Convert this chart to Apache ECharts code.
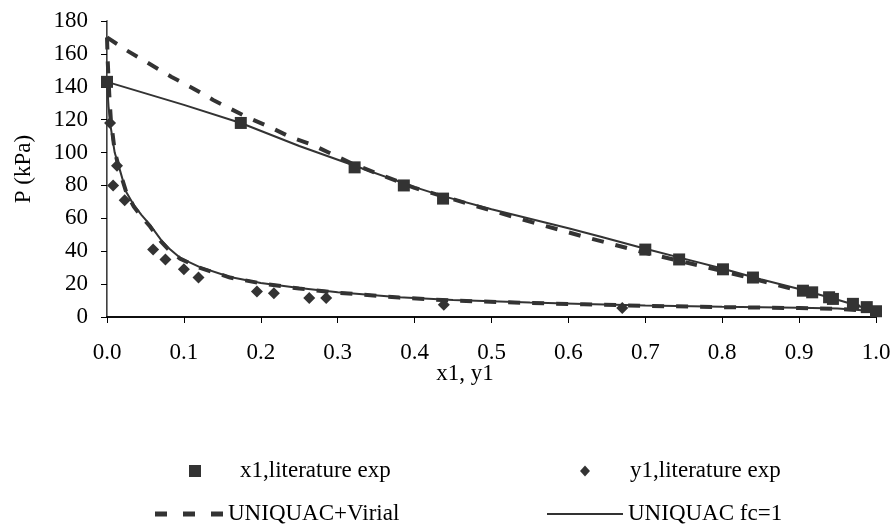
<!DOCTYPE html>
<html>
<head>
  <meta charset="UTF-8">
  <title>P-x-y diagram</title>
  <style>
    * { margin: 0; padding: 0; }
    html, body { width: 896px; height: 531px; background: #fff; }
    #chart { width: 896px; height: 531px; }
  </style>
</head>
<body>
  <div id="chart"></div>
  <script src="https://cdn.jsdelivr.net/npm/echarts@6/dist/echarts.min.js"></script>
  <script>
    // experimental points [x, P]
    const x1Exp = [[0, 143], [0.174, 118], [0.322, 91], [0.386, 80], [0.437, 72], [0.700, 41],
      [0.744, 35], [0.801, 29], [0.840, 24], [0.905, 16], [0.917, 15], [0.939, 12],
      [0.944, 11], [0.970, 8], [0.988, 6], [1.0, 3.5]];
    const y1Exp = [[0.004, 118], [0.013, 92], [0.008, 80], [0.023, 71], [0.060, 41], [0.076, 35],
      [0.100, 29], [0.119, 24], [0.195, 15.5], [0.217, 14.5], [0.263, 11.5], [0.285, 11.5],
      [0.438, 7.5], [0.670, 5.5]];

    // model curves
    const virialBubble = [[0, 170], [0.026, 162], [0.084, 146], [0.112, 139], [0.138, 132],
      [0.182, 121.5], [0.212, 115.5], [0.238, 109.5], [0.268, 104.5], [0.32, 93], [0.4, 78.5],
      [0.476, 68], [0.55, 58], [0.619, 49], [0.7, 39], [0.8, 28], [0.9, 16], [0.95, 10], [1.0, 3.5]];
    const virialDew = [[0, 170], [0.001, 155], [0.003, 135], [0.005, 120], [0.01, 101], [0.017, 88],
      [0.025, 76], [0.035, 67], [0.045, 61], [0.056, 55], [0.07, 46], [0.08, 41], [0.095, 35.5],
      [0.12, 30], [0.16, 24], [0.2, 20.5], [0.25, 17.3], [0.3, 14.8], [0.38, 11.8], [0.45, 10],
      [0.55, 8.5], [0.62, 7.7], [0.7, 6.8], [0.8, 6], [0.9, 5.4], [0.95, 5], [1.0, 3.5]];
    const fc1Bubble = [[0, 143], [0.1, 129], [0.174, 118], [0.25, 104], [0.322, 92], [0.4, 79],
      [0.437, 73.5], [0.5, 65.5], [0.6, 54], [0.641, 49], [0.7, 41.5], [0.75, 35.5], [0.8, 29.5],
      [0.85, 23], [0.9, 17], [0.95, 10.5], [1.0, 3.5]];
    const fc1Dew = [[0, 143], [0.002, 128], [0.005, 115], [0.01, 100], [0.017, 89], [0.025, 76],
      [0.035, 68], [0.045, 62], [0.056, 56], [0.07, 47], [0.08, 42], [0.095, 36], [0.12, 30.5],
      [0.16, 24.3], [0.2, 20.7], [0.25, 17.6], [0.3, 15], [0.38, 12], [0.45, 10.3], [0.55, 8.8],
      [0.62, 7.9], [0.7, 7], [0.8, 6.2], [0.9, 5.6], [0.95, 5.2], [1.0, 3.5]];

    const names = ['x1,literature exp', 'y1,literature exp', 'UNIQUAC+Virial', 'UNIQUAC fc=1'];

    const font = 'Liberation Serif';
    const ink = '#333';
    const chart = echarts.init(document.getElementById('chart'), null, { renderer: 'canvas' });

    const txt = { fontFamily: font, fontSize: 23, color: '#000', lineHeight: 24 };

    const legendBase = {
      orient: 'horizontal', padding: 0, itemGap: 0, selectedMode: false
    };

    // legend glyphs drawn like the spreadsheet legend
    const dashIcon = 'path://M0,0H12V5H0Z M28,0H40V5H28Z M56,0H68V5H56Z';
    const solidIcon = 'path://M0,0H76V2H0Z';

    const option = {
      animation: false,
      grid: { left: 107, right: 20, top: 21, bottom: 214 },
      xAxis: [{
        type: 'value', min: 0, max: 1, interval: 0.1,
        axisLine: { lineStyle: { color: '#000', width: 1.5 } },
        axisTick: { show: true, length: 6, lineStyle: { color: '#000' } },
        axisLabel: { margin: 24, fontFamily: font, fontSize: 23, color: '#000', formatter: v => v.toFixed(1) },
        splitLine: { show: false }
      }, {
        type: 'value', position: 'top', min: 0, max: 1,
        axisLine: { show: true, lineStyle: { color: '#000', width: 1.5 } },
        axisTick: { show: false }, axisLabel: { show: false }, splitLine: { show: false }
      }],
      yAxis: [{
        type: 'value', min: 0, max: 180, interval: 20,
        axisLine: { show: true, lineStyle: { color: '#000', width: 1.5 } },
        axisTick: { show: true, length: 6, lineStyle: { color: '#000' } },
        axisLabel: { margin: 19, fontFamily: font, fontSize: 23, color: '#000' },
        splitLine: { show: false }
      }, {
        type: 'value', position: 'right', min: 0, max: 180,
        axisLine: { show: true, lineStyle: { color: '#888', width: 1 } },
        axisTick: { show: false }, axisLabel: { show: false }, splitLine: { show: false }
      }],
      legend: [
        Object.assign({}, legendBase, {
          data: [{ name: names[0], icon: 'rect' }], left: 189, top: 459,
          itemWidth: 12, itemHeight: 12,
          textStyle: Object.assign({}, txt, { padding: [0, 0, 0, 34] })
        }),
        Object.assign({}, legendBase, {
          data: [{ name: names[1], icon: 'diamond' }], left: 580, top: 459,
          itemWidth: 10, itemHeight: 11,
          textStyle: Object.assign({}, txt, { padding: [0, 0, 0, 35] })
        }),
        Object.assign({}, legendBase, {
          data: [{ name: names[2], icon: dashIcon, itemStyle: { color: ink } }], left: 155, top: 502,
          itemWidth: 68, itemHeight: 5,
          textStyle: txt
        }),
        Object.assign({}, legendBase, {
          data: [{ name: names[3], icon: solidIcon, itemStyle: { color: ink } }], left: 547, top: 502,
          itemWidth: 76, itemHeight: 2,
          textStyle: txt
        })
      ],
      graphic: [
        {
          type: 'text', x: 465, y: 374,
          style: { text: 'x1, y1', font: '23px "Liberation Serif"', fill: '#000', align: 'center', verticalAlign: 'middle' }
        },
        {
          type: 'text', x: 24, y: 169, rotation: Math.PI / 2,
          style: { text: 'P (kPa)', font: '23px "Liberation Serif"', fill: '#000', align: 'center', verticalAlign: 'middle' }
        }
      ],
      series: [
        {
          name: names[2], type: 'line', data: virialBubble, symbol: 'none', z: 2,
          lineStyle: { color: ink, width: 4, type: [12, 12] }, itemStyle: { color: ink }
        },
        {
          name: names[2], type: 'line', data: virialDew, symbol: 'none', z: 2,
          lineStyle: { color: ink, width: 4, type: [12, 12] }, itemStyle: { color: ink }
        },
        {
          name: names[3], type: 'line', data: fc1Bubble, symbol: 'none', z: 3,
          lineStyle: { color: ink, width: 2 }, itemStyle: { color: ink }
        },
        {
          name: names[3], type: 'line', data: fc1Dew, symbol: 'none', z: 3,
          lineStyle: { color: ink, width: 2 }, itemStyle: { color: ink }
        },
        {
          name: names[0], type: 'scatter', data: x1Exp, symbol: 'rect', symbolSize: 12, z: 4,
          itemStyle: { color: ink, opacity: 1 }
        },
        {
          name: names[1], type: 'scatter', data: y1Exp, symbol: 'diamond', symbolSize: 12, z: 4,
          itemStyle: { color: ink, opacity: 1 }
        }
      ]
    };

    chart.setOption(option);
  </script>
</body>
</html>
